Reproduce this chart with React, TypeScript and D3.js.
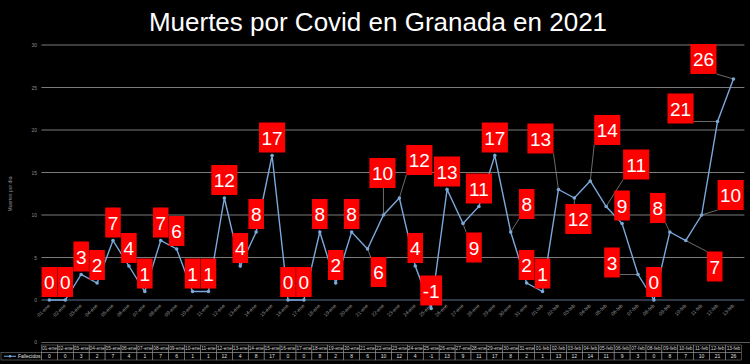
import * as d3 from "d3";

// ── Data ─────────────────────────────────────────────────────────────────────

const DATES = [
  "01-ene", "02-ene", "03-ene", "04-ene", "05-ene", "06-ene", "07-ene", "08-ene",
  "09-ene", "10-ene", "11-ene", "12-ene", "13-ene", "14-ene", "15-ene", "16-ene",
  "17-ene", "18-ene", "19-ene", "20-ene", "21-ene", "22-ene", "23-ene", "24-ene",
  "25-ene", "26-ene", "27-ene", "28-ene", "29-ene", "30-ene", "31-ene", "01-feb",
  "02-feb", "03-feb", "04-feb", "05-feb", "06-feb", "07-feb", "08-feb", "09-feb",
  "10-feb", "11-feb", "12-feb", "13-feb",
];

const FALLECIDOS = [
  0, 0, 3, 2, 7, 4, 1, 7, 6, 1, 1, 12, 4, 8, 17, 0, 0, 8, 2, 8, 6, 10, 12, 4,
  -1, 13, 9, 11, 17, 8, 2, 1, 13, 12, 14, 11, 9, 3, 0, 8, 7, 10, 21, 26,
];

const Y_TICKS = [0, 5, 10, 15, 20, 25, 30];

const SERIES_NAME = "Fallecidos";
const TITLE = "Muertes por Covid en Granada en 2021";
const Y_TITLE = "Muertes por día";

// Data labels dragged away from their default spot (index → offset of label centre, px)
const MOVED_LABELS: Record<number, [number, number]> = {
  20: [11, 23],
  21: [-1, -42],
  22: [20, -38],
  26: [11, 24],
  29: [16, -28],
  32: [-18, -51],
  33: [4, 21],
  34: [17, -51],
  35: [30, -42],
  37: [-26, -12],
  39: [-12, -24],
  40: [29, 26],
  41: [29, -20],
  42: [-37, -13],
  43: [-30, -20],
};

// ── Layout ───────────────────────────────────────────────────────────────────

const W = 750;
const H = 364;
const PLOT = { left: 41.4, right: 741.4, top: 45, bottom: 300 };
const FONT = "'Liberation Sans', Arial, sans-serif";
const LINE_COLOUR = "#7aa9dc";
const LABEL_FS = 19;

function labelWidth(s: string) {
  let w = 0;
  for (const ch of s) w += ch === "-" ? 0.333 : 0.556;
  return w * LABEL_FS + 5;
}

export default function App() {
  const x = d3.scaleBand<string>().domain(DATES).range([PLOT.left, PLOT.right]);
  const y = d3.scaleLinear().domain([0, 30]).range([PLOT.bottom, PLOT.top]);
  const cx = (d: string) => (x(d) ?? 0) + x.bandwidth() / 2;

  const pts = DATES.map((d, i) => ({ d, v: FALLECIDOS[i], px: cx(d), py: y(FALLECIDOS[i]) }));
  const line = d3
    .line<{ px: number; py: number }>()
    .x((p) => p.px)
    .y((p) => p.py);

  const tableTop = 345;
  const rowH = 7.5;

  return (
    <>
      <style>{`body{margin:0;background:#000}`}</style>
      <svg width={W} height={H} style={{ display: "block", fontFamily: FONT }}>
        <rect width={W} height={H} fill="#000" />

        <text x={378} y={31} textAnchor="middle" fontSize={26} fill="#fff">
          {TITLE}
        </text>

        {/* gridlines + y ticks */}
        {Y_TICKS.map((t) => (
          <g key={t}>
            <line
              x1={PLOT.left}
              x2={PLOT.right + 3}
              y1={y(t)}
              y2={y(t)}
              stroke={t === 0 ? "#6d8fb5" : "#9a9a9a"}
              strokeWidth={0.8}
            />
            <text x={37} y={y(t) + 2} textAnchor="end" fontSize={5} fill="#8c8c8c">
              {t}
            </text>
          </g>
        ))}

        <text
          transform={`translate(12,194) rotate(-90)`}
          textAnchor="middle"
          fontSize={5}
          fill="#8c8c8c"
        >
          {Y_TITLE}
        </text>

        {/* x tick labels */}
        {DATES.map((d) => (
          <text
            key={d}
            transform={`translate(${cx(d) + 1},${PLOT.bottom + 6}) rotate(-45)`}
            textAnchor="end"
            fontSize={5}
            fill="#9a9a9a"
          >
            {d}
          </text>
        ))}

        {/* series */}
        <path d={line(pts) ?? ""} fill="none" stroke={LINE_COLOUR} strokeWidth={1.4} />
        {pts.map((p) => (
          <circle key={p.d} cx={p.px} cy={p.py} r={1.8} fill={LINE_COLOUR} />
        ))}

        {/* data labels */}
        {pts.map((p, i) => {
          const [dx, dy] = MOVED_LABELS[i] ?? [0, -18];
          const lx = p.px + dx;
          const ly = p.py + dy;
          const s = String(p.v);
          const bw = labelWidth(s);
          const bh = 30;
          const ex = Math.max(lx - bw / 2, Math.min(p.px, lx + bw / 2));
          const ey = Math.max(ly - bh / 2, Math.min(p.py, ly + bh / 2));
          return (
            <g key={p.d}>
              {MOVED_LABELS[i] && (
                <line x1={p.px} y1={p.py} x2={ex} y2={ey} stroke="#9a9a9a" strokeWidth={0.7} />
              )}
              <rect x={lx - bw / 2} y={ly - bh / 2} width={bw} height={bh} fill="#ff0000" />
              <text x={lx} y={ly + 7} textAnchor="middle" fontSize={LABEL_FS} fill="#fff">
                {s}
              </text>
            </g>
          );
        })}

        {/* data table */}
        <line x1={PLOT.left} x2={W} y1={342.5} y2={342.5} stroke="#9a9a9a" strokeWidth={0.6} />
        <text x={37} y={344} textAnchor="end" fontSize={5} fill="#8c8c8c">
          0
        </text>
        {DATES.map((d, i) => (
          <g key={d}>
            <rect
              x={x(d)}
              y={tableTop}
              width={x.bandwidth()}
              height={rowH}
              fill="none"
              stroke="#8c8c8c"
              strokeWidth={0.5}
            />
            <rect
              x={x(d)}
              y={tableTop + rowH}
              width={x.bandwidth()}
              height={rowH}
              fill="none"
              stroke="#8c8c8c"
              strokeWidth={0.5}
            />
            <text x={cx(d)} y={tableTop + 5.3} textAnchor="middle" fontSize={4.8} fill="#d0d0d0">
              {d}
            </text>
            <text
              x={cx(d)}
              y={tableTop + rowH + 5.5}
              textAnchor="middle"
              fontSize={5}
              fill="#e0e0e0"
            >
              {FALLECIDOS[i]}
            </text>
          </g>
        ))}
        <rect
          x={1}
          y={tableTop + rowH}
          width={PLOT.left - 1}
          height={rowH}
          fill="none"
          stroke="#8c8c8c"
          strokeWidth={0.5}
        />
        <line
          x1={4}
          x2={16}
          y1={tableTop + rowH * 1.5}
          y2={tableTop + rowH * 1.5}
          stroke={LINE_COLOUR}
          strokeWidth={1}
        />
        <circle cx={10} cy={tableTop + rowH * 1.5} r={1.2} fill={LINE_COLOUR} />
        <text x={18} y={tableTop + rowH + 5.5} fontSize={5} fill="#e0e0e0">
          {SERIES_NAME}
        </text>
      </svg>
    </>
  );
}
